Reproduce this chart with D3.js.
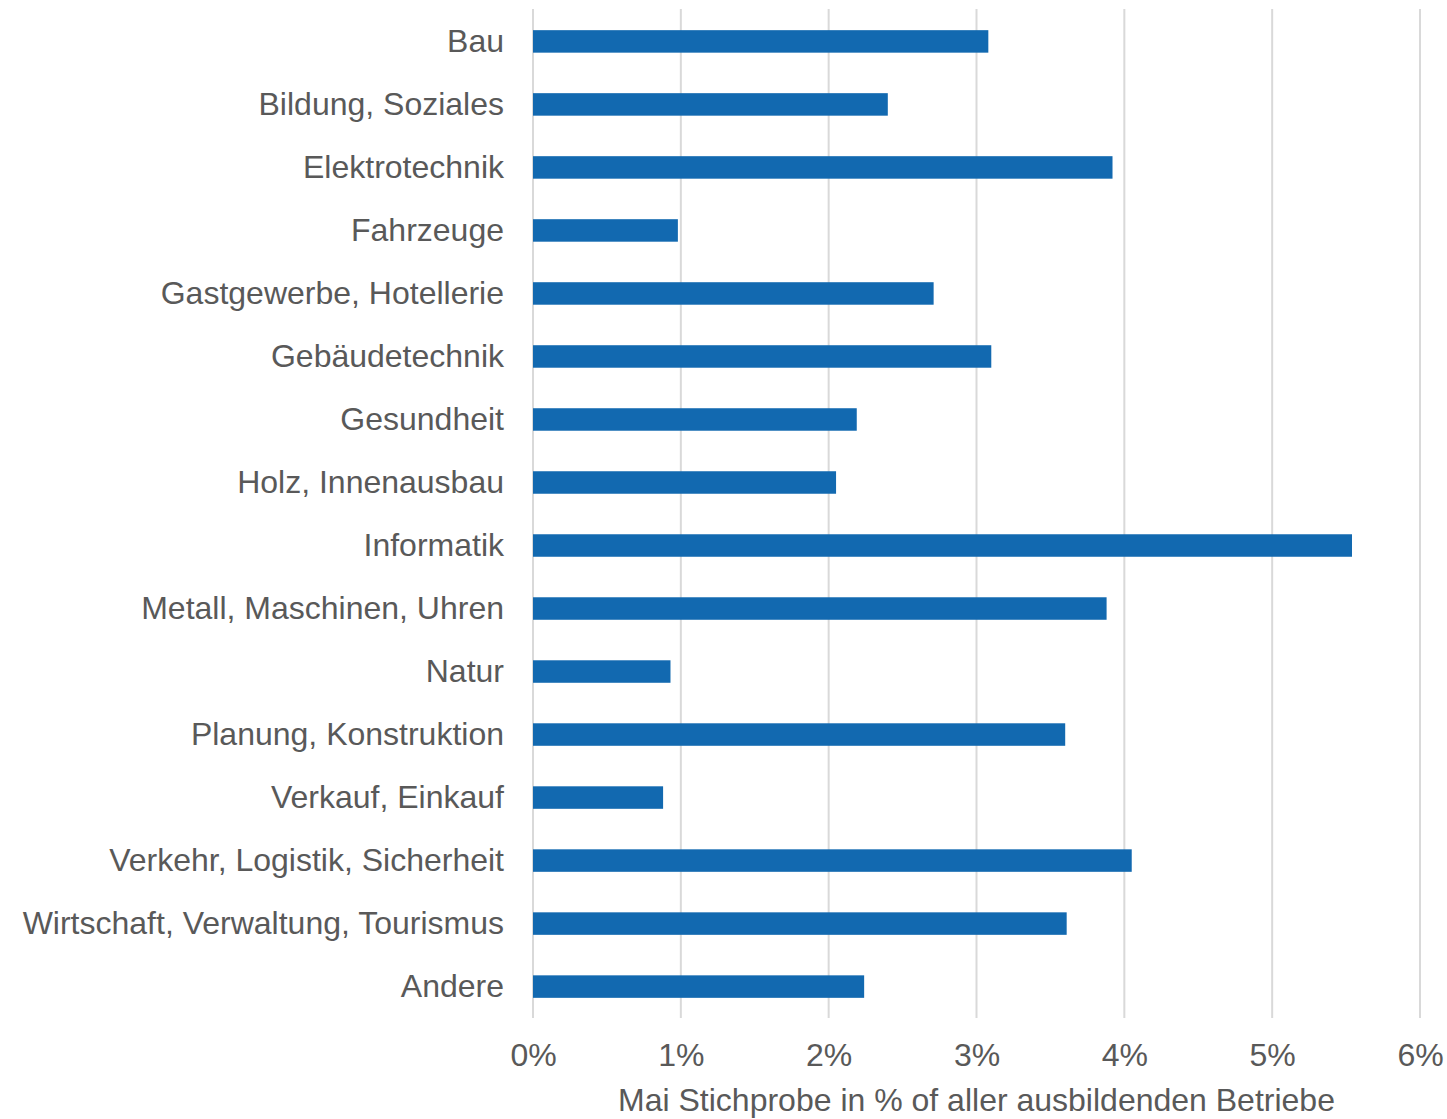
<!DOCTYPE html>
<html>
<head>
<meta charset="utf-8">
<script src="https://cdn.jsdelivr.net/npm/d3@7"></script>
<style>
  body { margin: 0; background: #fff; }
  text { font-family: "Liberation Sans", Arial, sans-serif; fill: #595959; }
</style>
</head>
<body>
<svg class="bar-chart"></svg>
<script>
var categories = ["Bau", "Bildung, Soziales", "Elektrotechnik", "Fahrzeuge", "Gastgewerbe, Hotellerie",
  "Gebäudetechnik", "Gesundheit", "Holz, Innenausbau", "Informatik", "Metall, Maschinen, Uhren",
  "Natur", "Planung, Konstruktion", "Verkauf, Einkauf", "Verkehr, Logistik, Sicherheit",
  "Wirtschaft, Verwaltung, Tourismus", "Andere"]
var values = [3.08, 2.40, 3.92, 0.98, 2.71, 3.10, 2.19, 2.05, 5.54, 3.88, 0.93, 3.60, 0.88, 4.05, 3.61, 2.24]
var ticks = [0, 1, 2, 3, 4, 5, 6]
var axisTitle = "Mai Stichprobe in % of aller ausbildenden Betriebe"

var margin = {top: 10, right: 27, bottom: 101, left: 533}
var width = 1447, height = 1119
var chartWidth = width - margin.left - margin.right
var chartHeight = height - margin.top - margin.bottom

var x = d3.scaleLinear().domain([0, 6]).range([0, chartWidth])
var y = d3.scaleBand().domain(categories).range([0, chartHeight]).paddingInner(0.643).paddingOuter(0.32)

var svg = d3.select(".bar-chart")
    .attr("width", width)
    .attr("height", height)
  .append("g")
    .attr("transform", `translate(${margin.left},${margin.top})`)

// grid
svg.append("g")
  .selectAll("line")
  .data(ticks)
  .enter().append("line")
    .attr("x1", function(d) { return x(d) })
    .attr("x2", function(d) { return x(d) })
    .attr("y1", -1)
    .attr("y2", chartHeight)
    .attr("stroke", "#d9d9d9")
    .attr("stroke-width", 2)

// bars
svg.append("g")
  .selectAll("rect")
  .data(values)
  .enter().append("rect")
    .attr("x", x(0))
    .attr("y", function(d, i) { return y(categories[i]) })
    .attr("width", function(d) { return x(d) - x(0) })
    .attr("height", y.bandwidth())
    .attr("fill", "#1269b0")

// category labels
var yAxis = svg.append("g")
    .call(d3.axisLeft(y).tickSize(0).tickPadding(29))
yAxis.select(".domain").remove()
yAxis.selectAll("text")
    .attr("fill", "#595959")
    .style("font-size", "32px")

// x tick labels
var xAxis = svg.append("g")
    .attr("transform", `translate(0,${chartHeight})`)
    .call(d3.axisBottom(x).tickValues(ticks).tickSize(0).tickPadding(25).tickFormat(function(d) { return d + "%" }))
xAxis.select(".domain").remove()
xAxis.selectAll("text")
    .attr("fill", "#595959")
    .style("font-size", "32px")

svg.append("text")
    .attr("x", chartWidth / 2)
    .attr("y", chartHeight + 93)
    .attr("text-anchor", "middle")
    .style("font-size", "32px")
    .text(axisTitle)
</script>
</body>
</html>
